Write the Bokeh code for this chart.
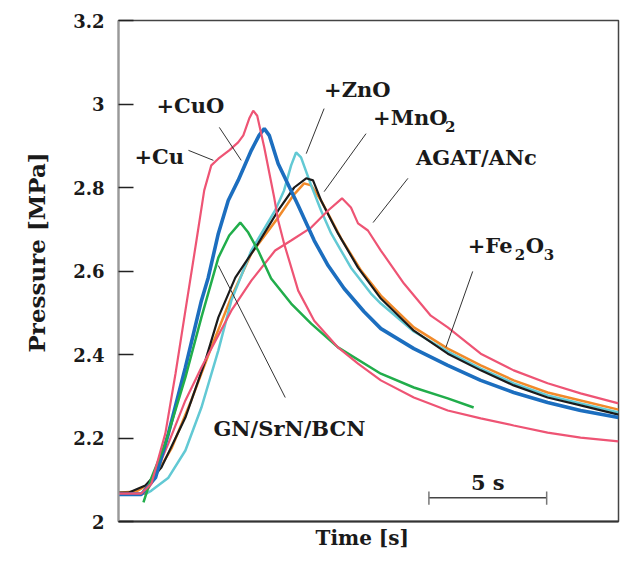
from bokeh.plotting import figure
from bokeh.models import Range1d, FixedTicker, Label, Title
from bokeh.embed import file_html
from bokeh.resources import INLINE

# ---- data (time in s, pressure in MPa) ----
cu_t = [0, 0.97, 1.40, 1.99, 2.42, 2.84, 3.31, 3.64, 3.94, 4.24, 4.70, 5.08, 5.30, 5.55, 5.72, 5.89,
        6.19, 6.61, 6.78, 7.03, 7.63, 8.31, 9.32, 10.17, 11.14, 12.54, 13.98, 15.38, 16.78, 18.22, 19.62, 21.23]
cu_p = [2.067, 2.067, 2.091, 2.211, 2.354, 2.505, 2.673, 2.793, 2.853, 2.869, 2.889, 2.908, 2.925, 2.965, 2.984, 2.972,
        2.896, 2.776, 2.721, 2.666, 2.553, 2.481, 2.417, 2.378, 2.338, 2.297, 2.266, 2.247, 2.230, 2.213, 2.201, 2.192]

cuo_t = [0, 0.97, 1.57, 2.12, 2.84, 3.52, 3.81, 4.24, 4.66, 5.08, 5.64, 5.97, 6.19, 6.40, 6.78, 7.63,
         8.31, 8.90, 9.58, 10.42, 11.14, 12.54, 13.98, 15.38, 16.78, 18.22, 19.62, 21.23]
cuo_p = [2.065, 2.065, 2.105, 2.211, 2.369, 2.529, 2.584, 2.690, 2.769, 2.817, 2.889, 2.925, 2.941, 2.925, 2.857, 2.757,
         2.673, 2.613, 2.558, 2.503, 2.462, 2.414, 2.374, 2.338, 2.309, 2.285, 2.266, 2.249]

gn_t = [1.06, 1.40, 1.99, 2.84, 3.52, 4.24, 4.70, 5.17, 5.51, 5.93, 6.48, 7.33, 8.18, 9.32, 11.14, 12.54, 13.98, 15.08]
gn_p = [2.046, 2.105, 2.187, 2.345, 2.489, 2.632, 2.685, 2.716, 2.692, 2.649, 2.582, 2.522, 2.474, 2.417, 2.354, 2.321, 2.295, 2.273]

zno_t = [0, 1.19, 1.40, 2.12, 2.84, 3.52, 4.24, 4.79, 5.64, 6.65, 7.03, 7.33, 7.54, 7.75, 8.18, 8.60,
         9.03, 9.45, 9.87, 10.72, 11.14, 12.54, 13.98, 15.38, 16.78, 18.22, 19.62, 21.23]
zno_p = [2.067, 2.067, 2.074, 2.105, 2.170, 2.273, 2.410, 2.529, 2.649, 2.745, 2.793, 2.853, 2.884, 2.872, 2.805, 2.745,
         2.690, 2.649, 2.608, 2.546, 2.522, 2.455, 2.407, 2.366, 2.331, 2.302, 2.283, 2.261]

mno2_t = [0, 0.42, 1.14, 1.82, 2.84, 3.69, 4.24, 4.96, 5.93, 6.78, 7.46, 7.97, 8.26, 8.60, 9.32, 10.17,
          11.14, 12.54, 13.98, 15.38, 16.78, 18.22, 19.62, 21.23]
mno2_p = [2.069, 2.069, 2.086, 2.129, 2.249, 2.386, 2.489, 2.584, 2.666, 2.745, 2.800, 2.822, 2.817, 2.769, 2.690, 2.608,
          2.534, 2.457, 2.402, 2.362, 2.326, 2.297, 2.278, 2.256]

fe2o3_t = [0, 0.76, 1.40, 2.25, 3.09, 3.94, 4.79, 5.64, 6.78, 7.42, 7.88, 8.18, 8.60, 9.45, 10.30, 11.14,
           12.54, 13.98, 15.38, 16.78, 18.22, 19.62, 21.23]
fe2o3_p = [2.069, 2.072, 2.093, 2.175, 2.290, 2.417, 2.537, 2.642, 2.728, 2.781, 2.810, 2.805, 2.769, 2.678, 2.601, 2.541,
           2.465, 2.414, 2.374, 2.338, 2.309, 2.290, 2.268]

agat_t = [0, 1.14, 1.40, 2.12, 2.84, 3.52, 4.79, 5.64, 6.65, 7.33, 8.18, 8.90, 9.49, 9.87, 10.17, 10.59,
          11.14, 12.12, 13.26, 13.98, 15.38, 16.78, 18.22, 19.62, 21.23]
agat_p = [2.067, 2.067, 2.091, 2.187, 2.290, 2.369, 2.505, 2.577, 2.649, 2.673, 2.704, 2.745, 2.774, 2.752, 2.714, 2.697,
          2.649, 2.570, 2.493, 2.465, 2.402, 2.362, 2.331, 2.307, 2.283]

y_ticks = [2, 2.2, 2.4, 2.6, 2.8, 3, 3.2]
y_tick_labels = ["2", "2.2", "2.4", "2.6", "2.8", "3", "3.2"]

FONT = "DejaVu Serif"
PINK = "#ee5474"
INK = "#1a1a1a"

p = figure(width=620, height=565, output_backend="svg", toolbar_location=None,
           x_range=Range1d(0, 21.23), y_range=Range1d(2, 3.2),
           min_border_left=117, min_border_right=2, min_border_top=20, min_border_bottom=44)
p.background_fill_color = "white"
p.border_fill_color = "white"
p.grid.visible = False
p.outline_line_color = "#444444"
p.outline_line_width = 1.5

# y axis
p.yaxis.ticker = FixedTicker(ticks=y_ticks)
p.yaxis.major_label_overrides = {t: l for t, l in zip(y_ticks, y_tick_labels)}
p.yaxis.minor_tick_line_color = None
p.yaxis.major_tick_in = 15
p.yaxis.major_tick_out = 0
p.yaxis.major_tick_line_color = "#222222"
p.yaxis.major_tick_line_width = 1.5
p.yaxis.axis_line_color = "#999999"
p.yaxis.axis_line_width = 2
p.yaxis.major_label_standoff = 14
p.yaxis.major_label_text_font = FONT
p.yaxis.major_label_text_font_style = "bold"
p.yaxis.major_label_text_font_size = "18px"
p.yaxis.major_label_text_color = INK

# x axis (no ticks)
p.xaxis.ticker = FixedTicker(ticks=[])
p.xaxis.minor_tick_line_color = None
p.xaxis.major_tick_line_color = "white"
p.xaxis.major_tick_out = 11
p.xaxis.major_tick_in = 0
p.xaxis.major_label_standoff = 0
p.xaxis.axis_line_color = "#333333"
p.xaxis.axis_line_width = 2

# axis titles as side titles (they sit slightly off-centre in the reference)
p.add_layout(Title(text="Time [s]", align="left", offset=197, standoff=5,
                   text_font=FONT, text_font_style="bold", text_font_size="20px", text_color=INK), "below")
p.add_layout(Title(text="Pressure [MPa]", align="left", offset=169, standoff=41,
                   text_font=FONT, text_font_style="bold", text_font_size="23px", text_color=INK), "left")

# curves
p.line(fe2o3_t, fe2o3_p, line_color="#f18a2a", line_width=2.5)
p.line(zno_t, zno_p, line_color="#62c9d4", line_width=2.5)
p.line(mno2_t, mno2_p, line_color="#1b1b1b", line_width=2.2)
p.line(agat_t, agat_p, line_color=PINK, line_width=2.2)
p.line(cuo_t, cuo_p, line_color="#1c6ebf", line_width=3.6)
p.line(gn_t, gn_p, line_color="#21ad4b", line_width=2.5)
p.line(cu_t, cu_p, line_color=PINK, line_width=2.2)

# leader lines
lead_x0 = [2.97, 4.28, 8.73, 10.51, 12.29, 15.04, 4.24]
lead_y0 = [2.889, 2.944, 2.989, 2.929, 2.822, 2.599, 2.613]
lead_x1 = [4.03, 5.21, 7.97, 8.73, 10.81, 13.90, 7.08]
lead_y1 = [2.865, 2.865, 2.881, 2.790, 2.716, 2.417, 2.297]
p.segment(lead_x0, lead_y0, lead_x1, lead_y1, line_color="#333333", line_width=1)

def lab(x, y, text, size="21px", xo=0, yo=0):
    p.add_layout(Label(x=x, y=y, text=text, x_offset=xo, y_offset=yo,
                       text_font=FONT, text_font_style="bold", text_font_size=size,
                       text_color=INK, text_align="left", text_baseline="middle"))

lab(0.68, 2.874, "+Cu")
lab(1.61, 2.996, "+CuO")
lab(8.73, 3.035, "+ZnO")
lab(10.81, 2.968, "+MnO")
lab(10.81, 2.968, "2", size="15px", xo=72, yo=-9)
lab(12.63, 2.872, "AGAT/ANc")
lab(14.83, 2.661, "+Fe")
lab(14.83, 2.661, "2", size="15px", xo=47, yo=-9)
lab(14.83, 2.661, "O", xo=58)
lab(14.83, 2.661, "3", size="15px", xo=76, yo=-9)
lab(4.03, 2.223, "GN/SrN/BCN")

# 5 s scale bar
bar_start = 13.18
bar_len = 5
p.segment([bar_start], [2.057], [bar_start + bar_len], [2.057], line_color="#444444", line_width=1.5)
p.segment([bar_start, bar_start + bar_len], [2.040, 2.040], [bar_start, bar_start + bar_len], [2.072, 2.072],
          line_color="#777777", line_width=1.5)
p.add_layout(Label(x=bar_start + bar_len / 2, y=2.093, text="5 s", text_font=FONT, text_font_style="bold",
                   text_font_size="21px", text_color=INK, text_align="center", text_baseline="middle"))

open("out.html", "w").write(file_html(p, INLINE))
